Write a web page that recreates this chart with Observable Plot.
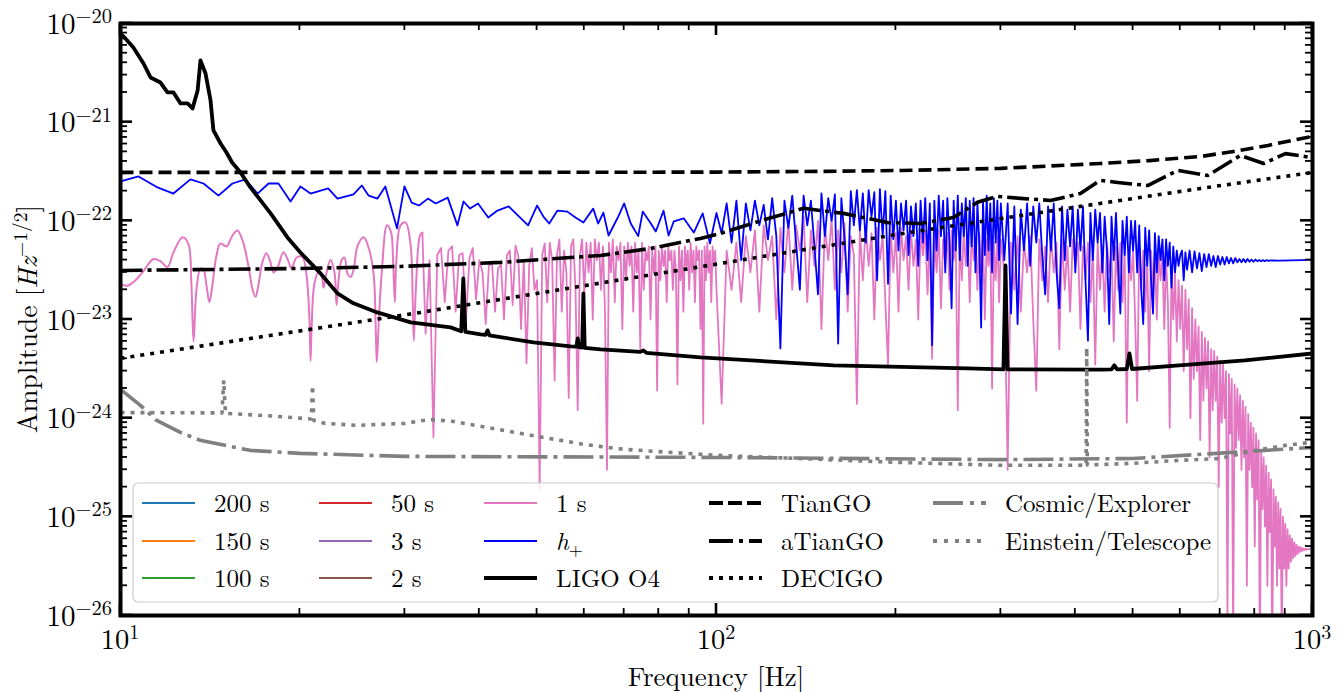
<!DOCTYPE html>
<html><head><meta charset="utf-8">
<script src="https://cdn.jsdelivr.net/npm/d3@7"></script>
<script src="https://cdn.jsdelivr.net/npm/@observablehq/plot@0.6"></script>
<style>html,body{margin:0;padding:0;background:#fff;}#chart svg{display:block;}</style>
</head><body><div id="chart"></div>
<script>
// ---------------- DATA (frequency in Hz, amplitude in Hz^-1/2) ----------------
const tiangoF = [10, 50, 100, 150, 204, 300, 441, 533, 649, 737, 842, 941, 1000];
const tiangoA = [3.1e-22, 3.1e-22, 3.12e-22, 3.17e-22, 3.24e-22, 3.4e-22, 3.81e-22, 4.08e-22, 4.49e-22, 5.05e-22, 5.81e-22, 6.68e-22, 7.16e-22];

const atiangoF = [10, 20.04, 29.5, 43.4, 63.9, 77.5, 94.0, 101.5, 118.5, 140, 163.3, 193.6, 220, 249.8, 274, 296, 323.6, 363.4, 408, 440, 471, 529, 594, 667, 757, 828, 901, 1000];
const atiangoA = [3.14e-23, 3.29e-23, 3.45e-23, 3.79e-23, 4.46e-23, 5.25e-23, 6.63e-23, 7.45e-23, 1.0e-22, 1.34e-22, 1.19e-22, 9.6e-23, 9.4e-23, 1.08e-22, 1.54e-22, 1.77e-22, 1.69e-22, 1.61e-22, 1.89e-22, 2.57e-22, 2.45e-22, 2.28e-22, 3.24e-22, 2.88e-22, 4.6e-22, 3.81e-22, 4.8e-22, 4.37e-22];

const decigoF = [10, 31.9, 101.6, 204, 323.6, 440, 649, 1000];
const decigoA = [4.04e-24, 1.18e-23, 3.7e-23, 7.4e-23, 1.13e-22, 1.5e-22, 2.13e-22, 3.09e-22];

const ceF = [10, 10.8, 11.5, 12.6, 13.6, 16.5, 20, 30, 100, 300, 500, 690, 1000];
const ceA = [1.96e-24, 1.35e-24, 9.5e-25, 7.18e-25, 5.97e-25, 4.72e-25, 4.4e-25, 4.1e-25, 4.0e-25, 3.8e-25, 3.9e-25, 4.4e-25, 5.05e-25];

const etF = [10, 14.8, 14.9, 15.0, 18, 20, 20.9, 21.0, 21.1, 22, 25, 30, 33, 36, 40, 50, 60, 70, 100, 200, 300, 400, 417, 418, 419, 500, 600, 700, 800, 900, 1000];
const etA = [1.14e-24, 1.13e-24, 2.42e-24, 1.12e-24, 1.05e-24, 1.0e-24, 9.8e-25, 2.15e-24, 9.5e-25, 8.86e-25, 8.46e-25, 8.86e-25, 9.7e-25, 9.3e-25, 8.3e-25, 6.54e-25, 5.42e-25, 4.83e-25, 4.2e-25, 3.57e-25, 3.33e-25, 3.33e-25, 3.35e-25, 5.2e-24, 3.35e-25, 3.49e-25, 3.74e-25, 3.9e-25, 4.7e-25, 5.3e-25, 5.7e-25];

const ligoF = [10.04, 10.19, 10.51, 10.93, 11.23, 11.67, 11.99, 12.27, 12.61, 12.96, 13.21, 13.47, 13.62, 13.89, 14.16, 14.32, 14.72, 15.06, 15.39, 15.9, 16.52, 17.18, 17.86, 19.06, 20.04, 21.66, 23.12, 24.6, 26.97, 30.68, 35.79, 37.3, 37.6, 37.9, 40.2, 41.0, 41.3, 41.6, 42.6, 49.3, 56.9, 58.2, 58.5, 58.8, 59.5, 59.8, 60.1, 63.9, 74.5, 75.4, 76.3, 94.0, 157.3, 263.8, 303.0, 305.4, 307.8, 440, 460, 465, 470, 488, 493, 498, 597, 770, 1000];
const ligoA = [7.74e-21, 7.05e-21, 5.71e-21, 3.93e-21, 2.84e-21, 2.52e-21, 2.0e-21, 2.0e-21, 1.55e-21, 1.55e-21, 1.38e-21, 2.09e-21, 4.22e-21, 3.11e-21, 1.66e-21, 8.24e-22, 6.08e-22, 4.93e-22, 3.9e-22, 3.09e-22, 2.18e-22, 1.61e-22, 1.19e-22, 6.79e-23, 4.78e-23, 2.93e-23, 1.84e-23, 1.46e-23, 1.18e-23, 9.35e-24, 8.32e-24, 7.6e-24, 2.61e-23, 7.5e-24, 7.06e-24, 7.0e-24, 7.76e-24, 6.9e-24, 6.74e-24, 5.86e-24, 5.34e-24, 5.3e-24, 6.43e-24, 5.25e-24, 5.2e-24, 1.84e-23, 5.15e-24, 4.98e-24, 4.7e-24, 4.86e-24, 4.6e-24, 4.13e-24, 3.43e-24, 3.2e-24, 3.12e-24, 3.54e-23, 3.12e-24, 3.1e-24, 3.12e-24, 3.43e-24, 3.12e-24, 3.15e-24, 4.53e-24, 3.15e-24, 3.43e-24, 3.85e-24, 4.53e-24];

// h+ : low band read point by point, higher bands on regular frequency bins
const hpF1 = [10.0, 10.72, 11.54, 12.27, 13.1, 13.78, 14.6, 15.41, 16.2, 16.98, 17.72, 18.41, 19.29, 20.04, 20.84, 22.31, 23.12, 24.61, 25.4, 26.09, 26.99, 27.82, 29.1, 29.95, 30.8, 31.68, 32.8, 33.8, 35.4, 36.76, 37.63, 38.6, 39.8, 41.4, 42.9, 44.8, 46.6, 48.3, 50.0, 51.2, 52.4, 54.1, 56.2, 58.0, 59.8, 62.1, 63.3, 64.6, 65.9, 68.3, 70.0, 71.8, 73.9, 75.2, 77.6, 79.1, 81.5, 83.1, 84.8, 88.1, 91.6, 94.8, 97.5];
const hpA1 = [2.51e-22, 2.82e-22, 2.18e-22, 1.89e-22, 2.63e-22, 2.39e-22, 1.8e-22, 2.39e-22, 2.63e-22, 1.89e-22, 2.39e-22, 2.39e-22, 1.57e-22, 2.23e-22, 1.89e-22, 2.13e-22, 1.68e-22, 1.85e-22, 2.28e-22, 1.8e-22, 1.68e-22, 2.23e-22, 8.4e-23, 2.23e-22, 1.53e-22, 1.43e-22, 1.68e-22, 1.5e-22, 1.72e-22, 9.0e-23, 1.57e-22, 1.33e-22, 1.5e-22, 1.08e-22, 1.27e-22, 1.4e-22, 1.11e-22, 9.0e-23, 1.43e-22, 1.11e-22, 9.4e-23, 1.27e-22, 1.24e-22, 1.08e-22, 9.6e-23, 1.33e-22, 9.4e-23, 1.21e-22, 7.1e-23, 1.08e-22, 1.5e-22, 9.4e-23, 7.0e-23, 1.24e-22, 9.4e-23, 7.8e-23, 1.27e-22, 7.1e-23, 9.9e-23, 1.06e-22, 7.6e-23, 1.19e-22, 5.9e-23];
// 100..300 Hz, 2 Hz bins
const hpA2 = [
 1.2e-22, 7.5e-23, 1.5e-22, 6.0e-23, 1.6e-22, 4.0e-23, 1.5e-22, 8.0e-23, 1.6e-22, 9.0e-23,
 1.45e-22, 6.5e-23, 1.7e-22, 7.0e-23, 5.1e-24, 1.6e-22, 8.5e-23, 1.8e-22, 6.0e-23, 2.0e-23,
 1.8e-22, 9.0e-23, 1.6e-22, 5.5e-23, 1.8e-23, 1.9e-22, 7.0e-23, 1.7e-22, 1.0e-22, 1.85e-22,
 5.7e-24, 1.7e-22, 6.5e-23, 1.8e-23, 2.0e-22, 9.0e-23, 2.05e-22, 8.0e-23, 1.9e-22, 6.0e-23,
 2.05e-22, 1.1e-22, 1.95e-22, 2.5e-23, 2.1e-22, 7.0e-23, 2.0e-22, 2.3e-23, 1.8e-22, 6.5e-23,
 1.6e-22, 5.0e-23, 1.5e-22, 8.0e-23, 1.6e-22, 4.5e-23, 1.4e-22, 7.0e-23, 1.5e-22, 3.5e-23,
 1.6e-22, 6.0e-23, 1.7e-22, 4.0e-23, 1.5e-22, 5.5e-24, 1.6e-22, 5.0e-23, 1.8e-22, 7.0e-23,
 1.6e-22, 3.0e-23, 1.7e-22, 6.0e-23, 1.3e-23, 1.6e-22, 5.0e-23, 1.8e-22, 4.0e-23, 1.5e-22,
 7.0e-23, 1.7e-22, 3.5e-23, 1.6e-22, 5.5e-23, 1.7e-22, 3.0e-23, 1.5e-22, 6.0e-23, 8.3e-24,
 1.6e-22, 4.5e-23, 1.8e-22, 5.0e-23, 1.5e-22, 3.0e-23, 1.7e-22, 6.0e-23, 1.6e-22, 4.0e-23,
 1.5e-22];
// 304..612 Hz, 4 Hz bins
const hpA3 = [
 4.0e-23, 1.5e-22, 1.15e-23, 1.4e-22, 9.0e-24, 1.3e-22, 5.0e-23, 1.5e-22, 3.5e-23, 1.4e-22,
 6.0e-23, 1.5e-22, 4.5e-23, 1.8e-23, 1.4e-22, 5.0e-23, 1.5e-22, 3.0e-23, 1.3e-23, 1.4e-22,
 4.0e-23, 1.3e-22, 5.5e-23, 1.4e-22, 3.0e-23, 1.3e-22, 5.0e-23, 1.4e-22, 2.5e-23, 6.1e-24,
 1.2e-22, 4.0e-23, 1.3e-22, 6.0e-23, 1.2e-22, 3.0e-23, 1.1e-22, 5.0e-23, 9.0e-24, 1.1e-22,
 4.0e-23, 1.2e-22, 3.5e-23, 1.15e-23, 1.0e-22, 4.5e-23, 1.1e-22, 3.0e-23, 1.0e-22, 5.0e-23,
 1.0e-22, 3.0e-23, 9.0e-23, 2.0e-23, 9.0e-24, 8.5e-23, 3.5e-23, 8.0e-23, 2.5e-23, 1.15e-23,
 7.5e-23, 3.0e-23, 7.0e-23, 4.0e-23, 6.5e-23, 2.5e-23, 6.5e-23, 3.5e-23, 6.0e-23, 2.1e-23,
 5.5e-23, 3.0e-23, 5.0e-23, 3.5e-23, 4.5e-23, 5.0e-23, 2.5e-23, 4.8e-23];
// 616..850 Hz, 6 Hz bins (ringing tail)
const hpA4 = [
 3.2e-23, 5.0e-23, 3.0e-23, 4.9e-23, 3.3e-23, 4.7e-23, 3.1e-23, 4.6e-23, 3.4e-23, 4.6e-23,
 3.5e-23, 4.4e-23, 3.4e-23, 4.4e-23, 3.6e-23, 4.3e-23, 3.6e-23, 4.3e-23, 3.7e-23, 4.2e-23,
 3.7e-23, 4.2e-23, 3.8e-23, 4.1e-23, 3.8e-23, 4.1e-23, 3.8e-23, 4.1e-23, 3.85e-23, 4.05e-23,
 3.85e-23, 4.05e-23, 3.9e-23, 4.0e-23, 3.9e-23, 4.0e-23, 3.9e-23, 4.0e-23, 3.92e-23, 3.98e-23];
const hpF5 = [880, 920, 960, 1000];
const hpA5 = [3.95e-23, 3.97e-23, 4.0e-23, 4.05e-23];

// "1 s" : low band read point by point, then regular bins
const s1F1 = [10.0, 10.27, 10.6, 10.93, 11.36, 11.67, 11.99, 12.27, 12.71, 13.0, 13.15, 13.26, 13.41, 13.62, 13.78, 13.94, 14.1, 14.27, 14.49, 14.71, 15.06, 15.41, 15.71, 16.03, 16.39, 16.66, 16.85, 17.05, 17.3, 17.57, 17.85, 18.06, 18.33, 18.77, 19.13, 19.36, 19.75, 20.19, 20.52, 20.75, 20.84, 20.92, 21.15, 21.48, 21.74, 21.91, 22.17, 22.51, 22.86, 23.04, 23.22, 23.5, 23.76, 24.04, 24.33, 24.61, 25.0, 25.59, 26.09, 26.6, 26.81, 26.92, 27.13, 27.45, 28.0, 28.45, 28.66, 28.86, 29.03, 29.5, 30.09, 30.68, 30.92, 31.05, 31.3, 31.8, 32.1];
const s1A1 = [2.3e-23, 2.2e-23, 2.5e-23, 3.1e-23, 4.1e-23, 3.9e-23, 3.4e-23, 4.8e-23, 6.8e-23, 5.8e-23, 2.3e-23, 6.0e-24, 2.0e-23, 3.3e-23, 3.2e-23, 2.2e-23, 1.5e-23, 2.3e-23, 4.45e-23, 5.9e-23, 5.5e-23, 7.1e-23, 8.0e-23, 6.3e-23, 3.5e-23, 2.0e-23, 1.7e-23, 2.3e-23, 3.8e-23, 4.7e-23, 3.8e-23, 3.0e-23, 3.3e-23, 4.8e-23, 3.9e-23, 3.3e-23, 4.25e-23, 4.3e-23, 2.8e-23, 1.0e-23, 3.8e-24, 8.0e-24, 2.3e-23, 3.0e-23, 2.8e-23, 2.1e-23, 3.0e-23, 4.0e-23, 3.0e-23, 1.4e-23, 2.5e-23, 4.0e-23, 4.25e-23, 2.9e-23, 2.7e-23, 3.2e-23, 5.6e-23, 6.8e-23, 5.3e-23, 2.8e-23, 7.8e-24, 3.7e-24, 9.8e-24, 3.1e-23, 9.0e-23, 7.6e-23, 4.0e-23, 1.5e-23, 4.0e-23, 9.0e-23, 9.6e-23, 5.6e-23, 1.6e-23, 6.1e-24, 2.0e-23, 7.1e-23, 7.6e-23];
// 32.5..100 Hz, 0.5 Hz bins
const s1A2 = [
 7.2e-24, 4.0e-23, 6.4e-25, 4.5e-23, 5.3e-23, 1.5e-23, 5.0e-23, 5.5e-23, 1.2e-23, 4.5e-23,
 4.7e-23, 1.0e-23, 4.2e-23, 5.3e-23, 1.6e-23, 4.0e-23, 3.0e-23, 9.0e-24, 3.5e-23, 3.8e-23,
 1.2e-23, 3.3e-23, 3.6e-23, 1.0e-23, 4.5e-23, 5.0e-23, 1.4e-23, 5.6e-23, 4.4e-23, 8.0e-24,
 4.0e-23, 3.6e-24, 3.5e-23, 5.3e-23, 2.0e-23, 2.5e-23, 1.9e-25, 4.5e-23, 5.9e-23, 1.5e-23,
 6.0e-23, 4.0e-23, 2.4e-24, 4.5e-23, 6.5e-23, 1.2e-23, 5.0e-23, 3.0e-23, 1.6e-24, 5.5e-23,
 6.5e-23, 2.0e-23, 1.2e-24, 4.5e-23, 6.5e-23, 1.8e-23, 6.0e-23, 3.0e-23, 6.0e-23, 1.0e-23,
 6.5e-23, 4.0e-23, 6.0e-23, 2.0e-23, 5.5e-23, 1.2e-23, 3.0e-25, 6.0e-23, 3.0e-23, 6.5e-23,
 1.5e-23, 5.5e-23, 4.0e-23, 6.0e-23, 8.0e-24, 5.5e-23, 2.5e-23, 6.0e-23, 3.5e-23, 5.5e-23,
 1.2e-23, 6.0e-23, 3.0e-23, 5.0e-23, 5.0e-24, 6.0e-23, 2.0e-23, 5.0e-23, 4.0e-23, 5.5e-23,
 1.0e-23, 5.0e-23, 3.0e-23, 5.5e-23, 1.9e-24, 5.0e-23, 2.5e-23, 5.5e-23, 3.5e-23, 5.0e-23,
 1.5e-23, 5.5e-23, 4.0e-23, 5.0e-23, 2.0e-23, 5.0e-23, 3.0e-23, 2.2e-24, 5.5e-23, 2.5e-23,
 5.0e-23, 1.2e-23, 5.5e-23, 3.5e-23, 5.0e-23, 2.0e-23, 6.0e-23, 3.0e-23, 5.0e-23, 1.5e-23,
 5.5e-23, 4.0e-23, 5.0e-23, 8.0e-24, 5.0e-23, 8.8e-25, 5.5e-23, 2.5e-23, 6.0e-23, 3.0e-23,
 5.0e-23, 1.5e-23, 5.5e-23, 3.5e-23, 5.0e-23, 2.0e-23];
// 102..300 Hz, 2 Hz bins
const s1A3 = [
 1.4e-24, 5.0e-23, 2.0e-23, 6.0e-23, 1.5e-23, 7.0e-23, 3.0e-23, 8.0e-23, 1.2e-23, 9.0e-23,
 4.0e-23, 7.0e-23, 1.0e-23, 8.5e-23, 3.0e-23, 1.0e-22, 2.0e-23, 9.0e-23, 5.0e-23, 1.1e-22,
 1.5e-23, 8.0e-23, 3.5e-23, 1.0e-22, 8.0e-24, 9.0e-23, 4.0e-23, 1.05e-22, 2.0e-23, 8.0e-23,
 3.0e-23, 9.5e-23, 1.2e-23, 7.0e-23, 4.5e-23, 1.4e-24, 8.0e-23, 2.5e-23, 9.0e-23, 3.5e-23,
 7.5e-23, 1.0e-23, 8.5e-23, 4.0e-23, 7.0e-23, 1.5e-23, 3.4e-24, 8.0e-23, 3.0e-23, 7.5e-23,
 1.2e-23, 8.5e-23, 4.0e-23, 7.0e-23, 2.0e-23, 8.0e-23, 3.5e-23, 6.5e-23, 1.0e-23, 7.5e-23,
 4.5e-23, 8.0e-23, 1.8e-23, 7.0e-23, 4.0e-24, 7.5e-23, 3.0e-23, 8.0e-23, 1.3e-23, 6.5e-23,
 3.5e-23, 7.5e-23, 2.0e-23, 8.0e-23, 4.0e-23, 6.5e-23, 1.2e-24, 7.0e-23, 2.5e-23, 8.0e-23,
 3.5e-23, 7.0e-23, 1.5e-23, 7.5e-23, 4.0e-23, 6.5e-23, 2.0e-23, 7.5e-23, 3.0e-23, 7.0e-23,
 1.0e-23, 6.5e-23, 3.5e-23, 7.0e-23, 2.0e-24, 6.0e-23, 2.5e-23, 7.0e-23, 1.5e-23, 6.5e-23];
// 304..600 Hz, 4 Hz bins
const s1A4 = [
 3.0e-23, 3.0e-25, 6.0e-23, 2.0e-23, 7.0e-23, 1.2e-23, 6.0e-23, 3.0e-23, 7.0e-23, 1.0e-23,
 1.9e-24, 6.5e-23, 2.5e-23, 5.5e-23, 1.5e-23, 7.0e-23, 3.0e-23, 6.0e-23, 5.0e-24, 6.5e-23,
 2.0e-23, 5.5e-23, 1.2e-23, 6.5e-23, 3.5e-23, 6.0e-23, 8.0e-24, 5.5e-23, 2.5e-23, 6.0e-23,
 1.5e-23, 5.0e-23, 3.5e-24, 6.0e-23, 2.0e-23, 5.5e-23, 1.2e-23, 6.0e-23, 3.0e-23, 5.0e-23,
 6.0e-24, 5.5e-23, 2.0e-23, 6.0e-23, 1.5e-23, 5.0e-23, 9.0e-25, 5.5e-23, 2.5e-23, 5.0e-23,
 1.0e-23, 1.5e-24, 5.5e-23, 2.0e-23, 5.0e-23, 1.2e-23, 4.5e-23, 3.0e-24, 5.0e-23, 1.8e-23,
 4.5e-23, 1.0e-23, 5.0e-23, 2.5e-23, 4.5e-23, 8.0e-24, 4.0e-23, 1.5e-23, 8.0e-25, 3.5e-23,
 1.0e-23, 3.0e-23, 6.0e-24, 2.5e-23, 8.0e-24];
// 604..1000 Hz, 4 Hz bins
const s1A5 = [
 2.2e-23, 3.0e-24, 2.0e-23, 5.0e-24, 1.6e-23, 1.0e-24, 1.3e-23, 2.5e-24, 1.0e-23, 3.0e-24,
 8.5e-24, 6.0e-25, 7.5e-24, 1.5e-24, 6.5e-24, 2.0e-24, 6.0e-24, 4.0e-25, 5.0e-24, 1.2e-24,
 4.8e-24, 1.5e-24, 4.2e-24, 2.0e-25, 3.8e-24, 9.0e-25, 3.5e-24, 1.0e-24, 3.0e-24, 1.0e-26,
 2.8e-24, 7.0e-25, 2.5e-24, 5.0e-27, 2.2e-24, 5.0e-25, 2.0e-24, 6.0e-25, 1.7e-24, 3.0e-25,
 1.5e-24, 4.0e-25, 1.3e-24, 2.0e-26, 1.1e-24, 3.0e-25, 9.0e-25, 2.0e-25, 8.0e-25, 5.0e-26,
 7.0e-25, 1.5e-25, 6.0e-25, 3.0e-27, 4.7e-25, 1.2e-25, 4.0e-25, 8.0e-26, 3.3e-25, 2.0e-26,
 2.8e-25, 7.0e-26, 2.4e-25, 3.0e-27, 1.9e-25, 5.0e-26, 1.6e-25, 2.0e-26, 1.4e-25, 3.0e-26,
 1.2e-25, 5.0e-27, 1.0e-25, 3.0e-26, 8.5e-26, 2.0e-26, 7.5e-26, 3.0e-26, 6.5e-26, 3.5e-26,
 6.0e-26, 3.8e-26, 5.5e-26, 4.0e-26, 5.2e-26, 4.2e-26, 5.0e-26, 4.4e-26, 4.9e-26, 4.5e-26,
 4.8e-26, 4.6e-26, 4.75e-26, 4.65e-26, 4.7e-26, 4.7e-26, 4.7e-26, 4.7e-26, 4.7e-26, 4.7e-26];

// ticks
const xMajorTicks = [10, 100, 1000];
const xTickExp = ["1", "2", "3"];
const yMajorTicks = [1e-26, 1e-25, 1e-24, 1e-23, 1e-22, 1e-21, 1e-20];
const yTickExp = ["\u221226", "\u221225", "\u221224", "\u221223", "\u221222", "\u221221", "\u221220"];
const minorMultipliers = [2, 3, 4, 5, 6, 7, 8, 9];

// legend (column-major as in the figure)
const legendLabels = ["200 s", "150 s", "100 s", "50 s", "3 s", "2 s", "1 s", "h+", "LIGO O4", "TianGO", "aTianGO", "DECIGO", "Cosmic/Explorer", "Einstein/Telescope"];
const legendColors = ["#1f77b4", "#ff7f0e", "#2ca02c", "#d62728", "#9467bd", "#8c564b", "#e377c2", "#0000ff", "#000000", "#000000", "#000000", "#000000", "#808080", "#808080"];

// ---------------- BUILD ----------------
const pairs = (fs, as) => fs.map((f, i) => ({f, v: as[i]}));
const grid = (start, step, as) => as.map((v, i) => ({f: +(start + i * step).toFixed(3), v}));

const tiango = pairs(tiangoF, tiangoA);
const atiango = pairs(atiangoF, atiangoA);
const decigo = pairs(decigoF, decigoA);
const ce = pairs(ceF, ceA);
const et = pairs(etF, etA);
const ligo = pairs(ligoF, ligoA);
const hplus = [...pairs(hpF1, hpA1), ...grid(100, 2, hpA2), ...grid(304, 4, hpA3), ...grid(616, 6, hpA4), ...pairs(hpF5, hpA5)];
const s1Low = pairs(s1F1, s1A1);
const s1High = [s1Low[s1Low.length - 1], ...grid(32.5, 0.5, s1A2), ...grid(102, 2, s1A3), ...grid(304, 4, s1A4), ...grid(604, 4, s1A5)];

const FONT = "Latin Modern Roman";
const common = {x: "f", y: "v", clip: true};

const chart = Plot.plot({
  width: 1343, height: 692,
  marginLeft: 120, marginRight: 31, marginTop: 23, marginBottom: 77,
  x: {type: "log", domain: [10, 1000], axis: null},
  y: {type: "log", domain: [1e-26, 1e-20], axis: null},
  style: {background: "#fff", overflow: "visible"},
  marks: [
    Plot.line(s1Low, {...common, stroke: "#e377c2", strokeWidth: 2, curve: "catmull-rom"}),
    Plot.line(s1High, {...common, stroke: "#e377c2", strokeWidth: 1.8}),
    Plot.line(hplus, {...common, stroke: "#0000ff", strokeWidth: 1.8}),
    Plot.line(ligo, {...common, stroke: "#000", strokeWidth: 3.8}),
    Plot.line(tiango, {...common, stroke: "#000", strokeWidth: 3.6, strokeDasharray: "13,6", strokeLinecap: "butt"}),
    Plot.line(atiango, {...common, stroke: "#000", strokeWidth: 3.6, strokeDasharray: "22,5,4,5", strokeLinecap: "butt"}),
    Plot.line(decigo, {...common, stroke: "#000", strokeWidth: 3.6, strokeDasharray: "4,6", strokeLinecap: "butt"}),
    Plot.line(ce, {...common, stroke: "#808080", strokeWidth: 3.6, strokeDasharray: "30,6,4,6", strokeLinecap: "butt"}),
    Plot.line(et, {...common, stroke: "#808080", strokeWidth: 3.6, strokeDasharray: "4,6", strokeLinecap: "butt"}),
    Plot.frame({stroke: "#000", strokeWidth: 4})
  ]
});
document.getElementById("chart").appendChild(chart);

// ---------------- AXES (ticks inward on all sides, from the plot's scales) ----------------
const svg = d3.select(chart);
const sx = chart.scale("x"), sy = chart.scale("y");
const X = v => sx.apply(v), Y = v => sy.apply(v);
const xL = X(10), xR = X(1000), yB = Y(1e-26), yT = Y(1e-20);

const xMinor = [], yMinor = [];
for (let d = 10; d < 1000; d *= 10) minorMultipliers.forEach(m => xMinor.push(m * d));
for (let e = -26; e < -20; e++) minorMultipliers.forEach(m => yMinor.push(m * Math.pow(10, e)));

const gt = svg.append("g").attr("stroke", "#000").attr("stroke-linecap", "butt");
const MAJ = 12, MIN = 7;
function tickX(v, len, w) {
  const x = X(v);
  gt.append("line").attr("x1", x).attr("x2", x).attr("y1", yB).attr("y2", yB - len).attr("stroke-width", w);
  gt.append("line").attr("x1", x).attr("x2", x).attr("y1", yT).attr("y2", yT + len).attr("stroke-width", w);
}
function tickY(v, len, w) {
  const y = Y(v);
  gt.append("line").attr("y1", y).attr("y2", y).attr("x1", xL).attr("x2", xL + len).attr("stroke-width", w);
  gt.append("line").attr("y1", y).attr("y2", y).attr("x1", xR).attr("x2", xR - len).attr("stroke-width", w);
}
xMajorTicks.forEach(v => tickX(v, MAJ, 2.6));
xMinor.forEach(v => tickX(v, MIN, 1.8));
yMajorTicks.forEach(v => tickY(v, MAJ, 2.6));
yMinor.forEach(v => tickY(v, MIN, 1.8));

function txt(parent) {
  return parent.append("text").attr("font-family", FONT).attr("fill", "#000");
}
const gl = svg.append("g");
yMajorTicks.forEach((v, i) => {
  const t = txt(gl).attr("x", xL - 8).attr("y", Y(v) + 10.5).attr("text-anchor", "end").attr("font-size", 29);
  t.append("tspan").attr("font-family", FONT).text("10");
  t.append("tspan").attr("font-family", FONT).attr("dy", -10.5).attr("font-size", 20.5).text(yTickExp[i]);
});
xMajorTicks.forEach((v, i) => {
  const t = txt(gl).attr("x", X(v)).attr("y", yB + 34).attr("text-anchor", "middle").attr("font-size", 28.5);
  t.append("tspan").attr("font-family", FONT).text("10");
  t.append("tspan").attr("font-family", FONT).attr("dy", -10).attr("font-size", 20).text(xTickExp[i]);
});
txt(gl).attr("x", (xL + xR) / 2).attr("y", 686).attr("text-anchor", "middle").attr("font-size", 27).text("Frequency [Hz]");
const yl = txt(gl).attr("transform", `translate(37,${(yT + yB) / 2}) rotate(-90)`).attr("text-anchor", "middle").attr("font-size", 27.5);
yl.append("tspan").attr("font-family", FONT).text("Amplitude [");
yl.append("tspan").attr("font-family", FONT).attr("font-style", "italic").text("Hz");
yl.append("tspan").attr("font-family", FONT).attr("dy", -10.5).attr("font-size", 19.5).text("\u22121/2");
yl.append("tspan").attr("font-family", FONT).attr("dy", 10.5).text("]");

// ---------------- LEGEND ----------------
const lg = svg.append("g");
lg.append("rect").attr("x", 133).attr("y", 483).attr("width", 1085).attr("height", 119).attr("rx", 5)
  .attr("fill", "#fff").attr("fill-opacity", 0.8).attr("stroke", "#cccccc").attr("stroke-width", 1.2);
const colX = [142, 319, 484, 709, 933];
const rowY = [503, 541, 578];
const handleLen = 53;
const styles = {
  "LIGO O4": {w: 4.2, dash: null},
  "TianGO": {w: 4, dash: "14,5"},
  "aTianGO": {w: 4, dash: "24,6,4,6"},
  "DECIGO": {w: 4, dash: "4,6"},
  "Cosmic/Explorer": {w: 3.8, dash: "30,7,4,7"},
  "Einstein/Telescope": {w: 3.8, dash: "4,7"}
};
legendLabels.forEach((lab, i) => {
  const c = Math.floor(i / 3), r = i % 3;
  const x = colX[c], y = rowY[r];
  const st = styles[lab] || {w: 2.2, dash: null};
  const ln = lg.append("line").attr("x1", x).attr("x2", x + handleLen).attr("y1", y).attr("y2", y)
    .attr("stroke", legendColors[i]).attr("stroke-width", st.w).attr("stroke-linecap", "butt");
  if (st.dash) ln.attr("stroke-dasharray", st.dash);
  const t = txt(lg).attr("x", x + handleLen + 19).attr("y", y + 9).attr("text-anchor", "start").attr("font-size", 25);
  if (lab === "h+") {
    t.append("tspan").attr("font-family", FONT).attr("font-style", "italic").text("h");
    t.append("tspan").attr("font-family", FONT).attr("dy", 6).attr("font-size", 18).text("+");
  } else t.text(lab);
});
</script></body></html>
